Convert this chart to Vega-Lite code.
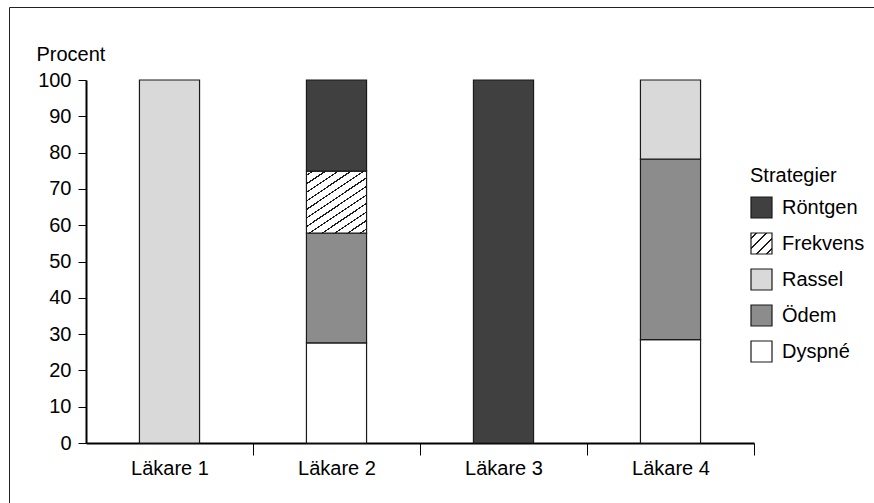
{
  "$schema": "https://vega.github.io/schema/vega-lite/v6.json",
  "width": 865,
  "height": 496,
  "autosize": {"type": "none"},
  "padding": {"left": 9, "top": 7, "right": 0, "bottom": 0},
  "background": "white",
  "data": {
    "values": [
      {"Läkare": "Läkare 1", "Strategi": "Rassel", "Ordning": 3, "Procent": 100},
      {"Läkare": "Läkare 2", "Strategi": "Dyspné", "Ordning": 1, "Procent": 27.6},
      {"Läkare": "Läkare 2", "Strategi": "Ödem", "Ordning": 2, "Procent": 30.2},
      {"Läkare": "Läkare 2", "Strategi": "Frekvens", "Ordning": 4, "Procent": 17.1},
      {"Läkare": "Läkare 2", "Strategi": "Röntgen", "Ordning": 5, "Procent": 25.1},
      {"Läkare": "Läkare 3", "Strategi": "Röntgen", "Ordning": 5, "Procent": 100},
      {"Läkare": "Läkare 4", "Strategi": "Dyspné", "Ordning": 1, "Procent": 28.5},
      {"Läkare": "Läkare 4", "Strategi": "Ödem", "Ordning": 2, "Procent": 49.7},
      {"Läkare": "Läkare 4", "Strategi": "Rassel", "Ordning": 3, "Procent": 21.8}
    ]
  },
  "mark": {"type": "bar", "stroke": "#1a1a1a", "strokeWidth": 1.2},
  "encoding": {
    "x": {
      "field": "Läkare",
      "type": "nominal",
      "sort": ["Läkare 1", "Läkare 2", "Läkare 3", "Läkare 4"],
      "scale": {"range": [77, 745], "paddingInner": 0.64, "paddingOuter": 0.32},
      "axis": {
        "title": null,
        "orient": "bottom",
        "offset": -60,
        "labelAngle": 0,
        "labelFontSize": 20,
        "labelColor": "black",
        "labelPadding": 3,
        "domainColor": "black",
        "domainWidth": 2,
        "tickColor": "black",
        "tickWidth": 1,
        "tickSize": 12,
        "tickOffset": 83,
        "labelOffset": -83,
        "grid": false
      }
    },
    "y": {
      "field": "Procent",
      "type": "quantitative",
      "stack": "zero",
      "scale": {"domain": [0, 100], "range": [436, 73], "nice": false},
      "axis": {
        "title": "Procent",
        "orient": "left",
        "offset": -77,
        "values": [0, 10, 20, 30, 40, 50, 60, 70, 80, 90, 100],
        "labelFontSize": 20,
        "labelColor": "black",
        "labelPadding": 7,
        "domainColor": "black",
        "domainWidth": 2,
        "tickColor": "black",
        "tickWidth": 1,
        "tickSize": 8,
        "grid": false,
        "titleAngle": 0,
        "titleAlign": "left",
        "titleBaseline": "alphabetic",
        "titleX": -50,
        "titleY": 53,
        "titleFontSize": 20,
        "titleFontWeight": "normal",
        "titleColor": "black"
      }
    },
    "order": {"field": "Ordning", "type": "quantitative", "sort": "ascending"},
    "color": {
      "field": "Strategi",
      "type": "nominal",
      "sort": ["Röntgen", "Frekvens", "Rassel", "Ödem", "Dyspné"],
      "condition": {
        "test": "datum.Strategi === 'Frekvens'",
        "value": {
          "gradient": "linear",
          "x1": 0, "y1": 0, "x2": 0.754, "y2": 1.161,
          "stops": [
            {"offset": 0, "color": "white"},
            {"offset": 0.0347, "color": "white"}, {"offset": 0.0347, "color": "#1a1a1a"}, {"offset": 0.0487, "color": "#1a1a1a"}, {"offset": 0.0487, "color": "white"},
            {"offset": 0.118, "color": "white"}, {"offset": 0.118, "color": "#1a1a1a"}, {"offset": 0.132, "color": "#1a1a1a"}, {"offset": 0.132, "color": "white"},
            {"offset": 0.2013, "color": "white"}, {"offset": 0.2013, "color": "#1a1a1a"}, {"offset": 0.2153, "color": "#1a1a1a"}, {"offset": 0.2153, "color": "white"},
            {"offset": 0.2847, "color": "white"}, {"offset": 0.2847, "color": "#1a1a1a"}, {"offset": 0.2987, "color": "#1a1a1a"}, {"offset": 0.2987, "color": "white"},
            {"offset": 0.368, "color": "white"}, {"offset": 0.368, "color": "#1a1a1a"}, {"offset": 0.382, "color": "#1a1a1a"}, {"offset": 0.382, "color": "white"},
            {"offset": 0.4513, "color": "white"}, {"offset": 0.4513, "color": "#1a1a1a"}, {"offset": 0.4653, "color": "#1a1a1a"}, {"offset": 0.4653, "color": "white"},
            {"offset": 0.5347, "color": "white"}, {"offset": 0.5347, "color": "#1a1a1a"}, {"offset": 0.5487, "color": "#1a1a1a"}, {"offset": 0.5487, "color": "white"},
            {"offset": 0.618, "color": "white"}, {"offset": 0.618, "color": "#1a1a1a"}, {"offset": 0.632, "color": "#1a1a1a"}, {"offset": 0.632, "color": "white"},
            {"offset": 0.7013, "color": "white"}, {"offset": 0.7013, "color": "#1a1a1a"}, {"offset": 0.7153, "color": "#1a1a1a"}, {"offset": 0.7153, "color": "white"},
            {"offset": 0.7847, "color": "white"}, {"offset": 0.7847, "color": "#1a1a1a"}, {"offset": 0.7987, "color": "#1a1a1a"}, {"offset": 0.7987, "color": "white"},
            {"offset": 0.868, "color": "white"}, {"offset": 0.868, "color": "#1a1a1a"}, {"offset": 0.882, "color": "#1a1a1a"}, {"offset": 0.882, "color": "white"},
            {"offset": 0.9513, "color": "white"}, {"offset": 0.9513, "color": "#1a1a1a"}, {"offset": 0.9653, "color": "#1a1a1a"}, {"offset": 0.9653, "color": "white"},
            {"offset": 1, "color": "white"}
          ]
        }
      },
      "scale": {
        "domain": ["Röntgen", "Frekvens", "Rassel", "Ödem", "Dyspné"],
        "range": [
          "#404040",
          {"expr": "{gradient: 'linear', x1: 0, y1: 0, x2: 1, y2: 1, stops: [{offset: 0, color: 'white'}, {offset: 0.107, color: 'white'}, {offset: 0.107, color: '#1a1a1a'}, {offset: 0.143, color: '#1a1a1a'}, {offset: 0.143, color: 'white'}, {offset: 0.357, color: 'white'}, {offset: 0.357, color: '#1a1a1a'}, {offset: 0.393, color: '#1a1a1a'}, {offset: 0.393, color: 'white'}, {offset: 0.607, color: 'white'}, {offset: 0.607, color: '#1a1a1a'}, {offset: 0.643, color: '#1a1a1a'}, {offset: 0.643, color: 'white'}, {offset: 0.857, color: 'white'}, {offset: 0.857, color: '#1a1a1a'}, {offset: 0.893, color: '#1a1a1a'}, {offset: 0.893, color: 'white'}, {offset: 1, color: 'white'}]}"},
          "#d9d9d9",
          "#8c8c8c",
          "#ffffff"
        ]
      },
      "legend": {
        "title": "Strategier",
        "orient": "none",
        "legendX": 741,
        "legendY": 159,
        "padding": 0,
        "symbolType": "square",
        "symbolSize": 441,
        "symbolStrokeColor": "#1a1a1a",
        "symbolStrokeWidth": 1.2,
        "symbolOpacity": 1,
        "labelFontSize": 20,
        "labelColor": "black",
        "labelOffset": 9,
        "titleFontSize": 20,
        "titleFontWeight": "normal",
        "titleColor": "black",
        "titlePadding": 10,
        "rowPadding": 9
      }
    }
  },
  "config": {
    "font": "Liberation Sans",
    "view": {"stroke": "#222222", "strokeWidth": 1}
  }
}
